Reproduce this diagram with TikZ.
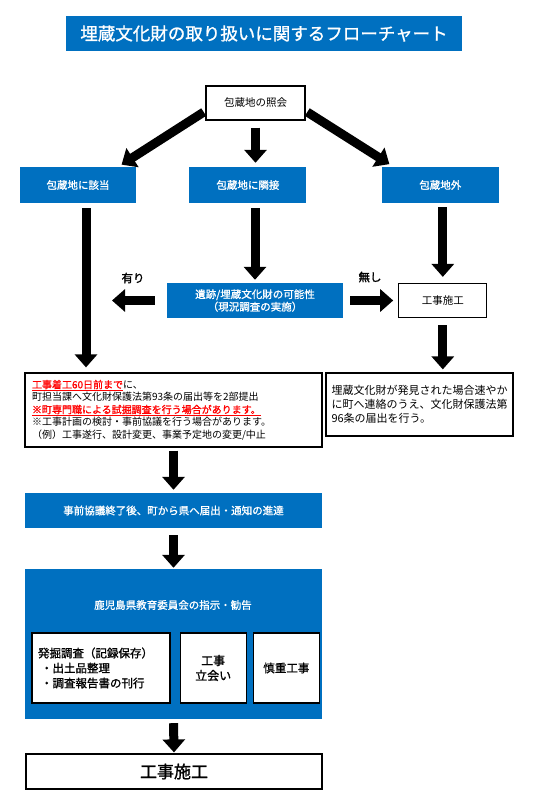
\documentclass[tikz,border=0pt]{standalone}
\usepackage{fontspec}
\setmainfont{Noto Sans CJK JP}[AutoFakeBold=1.2]
\usepackage{tikz}
\usetikzlibrary{arrows.meta, positioning}
\definecolor{flowblue}{HTML}{0070C0}
\definecolor{notered}{HTML}{FF0000}

\begin{document}
\begin{tikzpicture}[
    x=1pt, y=-1pt,
    bluebox/.style={rectangle, fill=flowblue, text=white, align=center, inner sep=0pt, font=\fontsize{10.5}{12.5}\selectfont\bfseries},
    whitebox/.style={rectangle, draw, line width=1.2pt, fill=white, align=center, inner sep=0pt, font=\fontsize{10.5}{12.5}\selectfont},
    bigarrow/.style={-{Triangle[width=22pt, length=13pt]}, line width=9pt}
]
\useasboundingbox (0,0) rectangle (554,800);

\node[bluebox, minimum width=396pt, minimum height=35pt, font=\fontsize{17.5}{20}\selectfont\bfseries] (title) at (264,33.5) {埋蔵文化財の取り扱いに関するフローチャート};

\node[whitebox, minimum width=99pt, minimum height=34pt] (query) at (255.5,103) {包蔵地の照会};

\node[bluebox, minimum width=116pt, minimum height=36pt] (hit) at (78,185) {包蔵地に該当};
\node[bluebox, minimum width=117pt, minimum height=36pt, right=53pt of hit] (adj) {包蔵地に隣接};
\node[bluebox, minimum width=117pt, minimum height=36pt, right=75pt of adj] (outside) {包蔵地外};

\node[bluebox, minimum width=176pt, minimum height=35pt] (poss) at (255,300.5) {遺跡/埋蔵文化財の可能性\\（現況調査の実施）};
\node[whitebox, minimum width=88pt, minimum height=34pt, right=55pt of poss] (build) {工事施工};
\node[font=\fontsize{11.5}{13}\selectfont\bfseries] (yeslbl) at (133,278) {有り};
\node[font=\fontsize{11.5}{13}\selectfont\bfseries] (nolbl) at (370,277) {無し};
\coordinate (yes) at (112,300.5);

\node[whitebox, minimum width=297pt, minimum height=74pt, text width=283pt, align=left, font=\fontsize{10}{12.5}\selectfont] (notice) at (173.5,410) {\textcolor{notered}{\bfseries\underline{工事着工60日前まで}}に、\\
町担当課へ文化財保護法第93条の届出等を2部提出\\
\textcolor{notered}{\bfseries\underline{※町専門職による試掘調査を行う場合があります。}}\\
※工事計画の検討・事前協議を行う場合があります。\\
（例）工事遂行、設計変更、事業予定地の変更/中止};
\node[whitebox, minimum width=187pt, minimum height=63pt, text width=176pt, align=left, font=\fontsize{11}{14}\selectfont] (found) at (419.5,404.5) {埋蔵文化財が発見された場合速やか\\
に町へ連絡のうえ、文化財保護法第\\
96条の届出を行う。};

\node[bluebox, minimum width=297pt, minimum height=35pt] (consult) at (173.5,510.5) {事前協議終了後、町から県へ届出・通知の進達};
\node[bluebox, minimum width=297pt, minimum height=150pt] (pref) at (173.5,644) {};
\node[text=white, font=\fontsize{10.5}{12.5}\selectfont\bfseries] (prefttl) at (173,605) {鹿児島県教育委員会の指示・勧告};
\node[whitebox, minimum width=138pt, minimum height=70pt, text width=126pt, align=left, font=\fontsize{11.5}{15}\selectfont\bfseries] (dig) at (101,668) {発掘調査（記録保存）\\
\hspace*{3pt}・出土品整理\\
\hspace*{3pt}・調査報告書の刊行};
\node[whitebox, minimum width=66pt, minimum height=70pt, right=9pt of dig, font=\fontsize{12}{15}\selectfont\bfseries] (witness) {工事\\立会い};
\node[whitebox, minimum width=66pt, minimum height=70pt, right=6pt of witness, font=\fontsize{11.5}{14}\selectfont\bfseries] (careful) {慎重工事};

\node[whitebox, minimum width=296pt, minimum height=35pt, font=\fontsize{17}{20}\selectfont\bfseries] (final) at (174,771.5) {工事施工};

\draw[bigarrow, shorten <=2pt, shorten >=4pt] ([yshift=-8pt]query.west) -- ([xshift=-18pt]hit.north east);
\draw[bigarrow, shorten <=7pt, shorten >=4pt] (query.south) -- (query.south |- adj.north);
\draw[bigarrow, shorten <=2pt, shorten >=5pt] ([yshift=-8pt]query.east) -- ([xshift=12pt]outside.north west);

\draw[bigarrow, shorten <=5pt, shorten >=5pt] ([xshift=8pt]hit.south) -- ([xshift=8pt]hit.south |- notice.north);
\draw[bigarrow, shorten <=5pt, shorten >=3pt] (poss.north |- adj.south) -- (poss.north);
\draw[bigarrow, shorten <=4pt, shorten >=6pt] (build.north |- outside.south) -- (build.north);

\draw[bigarrow, shorten <=12pt] (poss.west) -- (yes);
\draw[bigarrow, shorten <=7pt, shorten >=5pt] (poss.east) -- (build.west);
\draw[bigarrow, shorten <=7pt, shorten >=3pt] (build.south) -- (build.south |- found.north);

\draw[bigarrow, shorten <=3pt, shorten >=3pt] (notice.south) -- (consult.north);
\draw[bigarrow, shorten <=7pt, shorten >=1pt] (consult.south) -- (pref.north);
\draw[bigarrow, shorten <=4pt, shorten >=1pt] (pref.south) -- (final.north);
\end{tikzpicture}
\end{document}
